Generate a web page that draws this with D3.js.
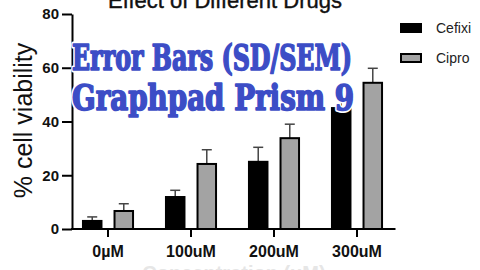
<!DOCTYPE html>
<html>
<head>
<meta charset="utf-8">
<script src="https://cdn.jsdelivr.net/npm/d3@7"></script>
<style>
	body { margin: 0; background: #fff; overflow: hidden; }
	svg { display: block; font-family: "Liberation Sans", Arial, sans-serif; }
</style>
</head>
<body>
<script>
const categories = ["0µM", "100uM", "200uM", "300uM"];
const seriesNames = ["Cefixi", "Cipro"];
const cefixi = [3.0, 11.9, 25.0, 45.0];
const cefixiErr = [1.5, 2.5, 5.4, 4.0];
const cipro = [6.7, 24.2, 33.8, 54.4];
const ciproErr = [2.7, 5.3, 5.2, 5.4];
const yTicks = [0, 20, 40, 60, 80];
const colours = ["#000000", "#a3a3a3"];
const watermark = ["Error Bars (SD/SEM)", "Graphpad Prism 9"];

const width = 480, height = 270;
const margin = ({ top: 14, right: 85, bottom: 41, left: 72 });

const rows = categories.map((c, i) => ({
	cat: c,
	bars: [
		{ s: seriesNames[0], v: cefixi[i], e: cefixiErr[i] },
		{ s: seriesNames[1], v: cipro[i], e: ciproErr[i] }
	]
}));

const x = d3.scaleBand()
	.domain(categories)
	.range([66.5, 398.5])
	.padding(0);

const xs = d3.scaleBand()
	.domain(seriesNames)
	.range([0, x.bandwidth()])
	.paddingInner(0.35)
	.paddingOuter(0.49);

const y = d3.scaleLinear()
	.domain([0, 80])
	.range([height - margin.bottom, margin.top]);

const colour = d3.scaleOrdinal().domain(seriesNames).range(colours);

const svg = d3.select("body").append("svg")
	.attr("width", width)
	.attr("height", height);

// title (cut by the top edge in the reference)
svg.append("text")
	.attr("x", 225)
	.attr("y", 8)
	.attr("text-anchor", "middle")
	.attr("font-size", 22)
	.attr("fill", "#111")
	.attr("stroke", "#111")
	.attr("stroke-width", 0.4)
	.text("Effect of Different Drugs");

// bars
const g = svg.append("g")
	.selectAll("g")
	.data(rows)
	.join("g")
	.attr("transform", d => `translate(${x(d.cat)},0)`);

// error bars (upper only)
const eb = g.selectAll("g.err")
	.data(d => d.bars)
	.join("g")
	.attr("class", "err")
	.attr("stroke", "#444")
	.attr("stroke-width", 1.5);

eb.append("line")
	.attr("x1", d => xs(d.s) + xs.bandwidth() / 2)
	.attr("x2", d => xs(d.s) + xs.bandwidth() / 2)
	.attr("y1", d => y(d.v))
	.attr("y2", d => y(d.v + d.e));

eb.append("line")
	.attr("x1", d => xs(d.s) + xs.bandwidth() / 2 - 5)
	.attr("x2", d => xs(d.s) + xs.bandwidth() / 2 + 5)
	.attr("y1", d => y(d.v + d.e))
	.attr("y2", d => y(d.v + d.e));

g.selectAll("rect")
	.data(d => d.bars)
	.join("rect")
	.attr("fill", d => colour(d.s))
	.attr("stroke", "#000")
	.attr("stroke-width", 2)
	.attr("x", d => xs(d.s) + 1)
	.attr("width", xs.bandwidth() - 2)
	.attr("y", d => y(d.v))
	.attr("height", d => y(0) - y(d.v));

// y axis
svg.append("g")
	.attr("transform", `translate(${margin.left},0)`)
	.call(d3.axisLeft(y).tickValues(yTicks).tickSize(10).tickPadding(3).tickSizeOuter(0))
	.call(g => g.select(".domain").attr("stroke-width", 2))
	.call(g => g.selectAll(".tick line").attr("stroke-width", 2))
	.call(g => g.selectAll(".tick text")
		.attr("font-size", 15)
		.attr("font-weight", "bold")
		.attr("font-family", "Liberation Sans, Arial, sans-serif")
		.attr("fill", "#111"));

// x axis
svg.append("g")
	.attr("transform", `translate(0,${y(0)})`)
	.call(d3.axisBottom(x).tickSize(8).tickPadding(9).tickSizeOuter(0))
	.call(g => g.select(".domain").remove())
	.call(g => g.selectAll(".tick line").attr("stroke-width", 2))
	.call(g => g.selectAll(".tick text")
		.attr("font-size", 16)
		.attr("font-weight", "bold")
		.attr("font-family", "Liberation Sans, Arial, sans-serif")
		.attr("fill", "#111"));

svg.append("line")
	.attr("stroke", "#000")
	.attr("stroke-width", 2)
	.attr("x1", margin.left - 1)
	.attr("x2", x.range()[1] - 3)
	.attr("y1", y(0))
	.attr("y2", y(0));

// y label
svg.append("text")
	.attr("transform", "rotate(-90)")
	.attr("x", -(y(0) + y(80)) / 2 + 1)
	.attr("y", 32)
	.attr("text-anchor", "middle")
	.attr("font-size", 25)
	.attr("fill", "#111")
	.text("% cell viability");

// x label, mostly cut by the bottom edge
svg.append("text")
	.attr("x", 234)
	.attr("y", 280)
	.attr("text-anchor", "middle")
	.attr("font-size", 20)
	.attr("font-weight", "bold")
	.attr("fill", "#e6e6e6")
	.text("Concentration (uM)");

// legend
const lg = svg.append("g")
	.attr("transform", "translate(400,23)")
	.selectAll("g")
	.data(seriesNames)
	.join("g")
	.attr("transform", (d, i) => `translate(0,${i * 30})`);

lg.append("rect")
	.attr("x", 1)
	.attr("y", 1)
	.attr("width", 20)
	.attr("height", 8)
	.attr("fill", d => colour(d))
	.attr("stroke", "#000")
	.attr("stroke-width", 2);

lg.append("text")
	.attr("x", 36)
	.attr("y", 10)
	.attr("font-size", 14)
	.attr("fill", "#222")
	.text(d => d);

// watermark overlay: white halo underneath, heavy blue text on top
const wmFont = "'DejaVu Serif Condensed', 'DejaVu Serif', serif";
const wmLines = [
	{ t: watermark[0], y: 70, len: 280 },
	{ t: watermark[1], y: 110, len: 282 }
];

[
	{ stroke: "#fff", sw: 5 },
	{ stroke: "#3c4dc6", sw: 1.6 }
].forEach(layer => {
	svg.append("g")
		.attr("font-family", wmFont)
		.attr("font-weight", "bold")
		.attr("font-size", 35)
		.attr("fill", "#3c4dc6")
		.attr("stroke", layer.stroke)
		.attr("stroke-width", layer.sw)
		.attr("stroke-linejoin", "round")
		.selectAll("text")
		.data(wmLines)
		.join("text")
		.attr("x", 72)
		.attr("y", d => d.y)
		.attr("textLength", d => d.len)
		.attr("lengthAdjust", "spacingAndGlyphs")
		.text(d => d.t);
});
</script>
</body>
</html>
